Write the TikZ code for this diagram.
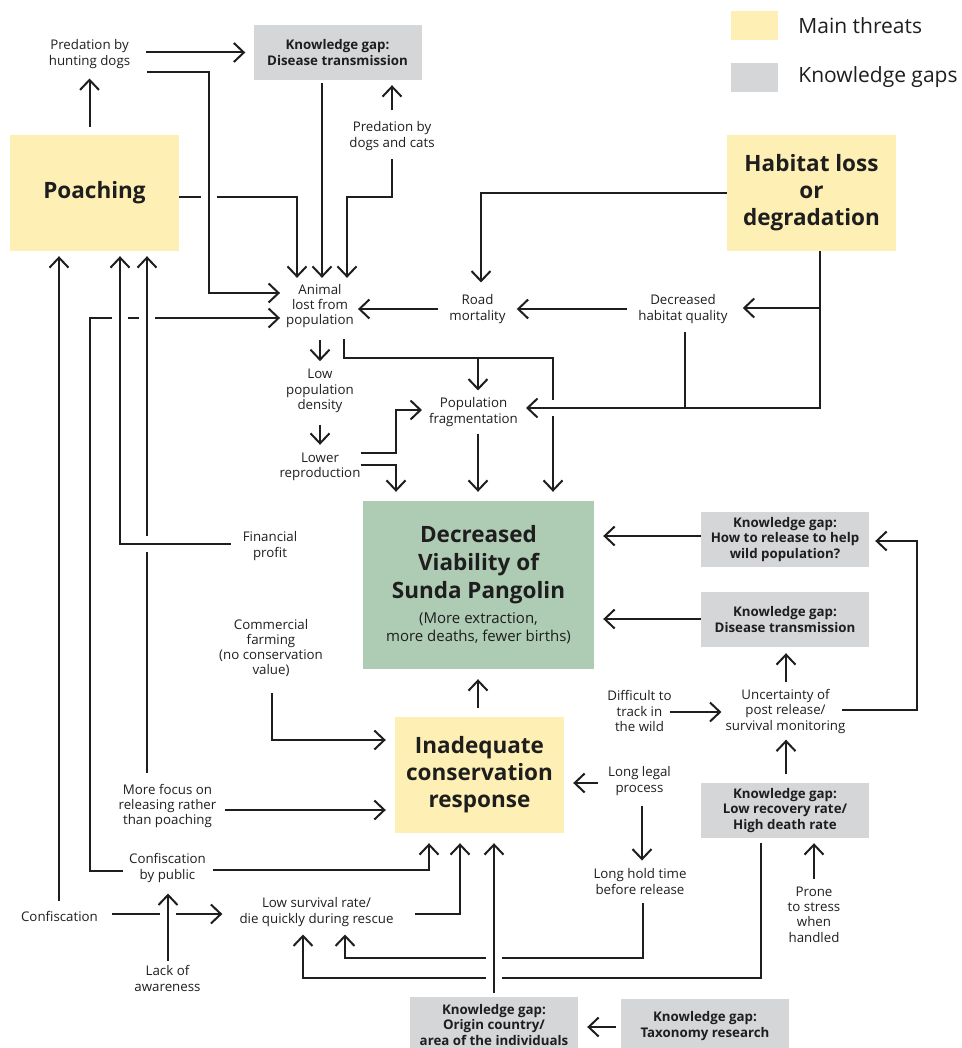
\documentclass[tikz,border=0pt]{standalone}
\usepackage{fontspec}
\setmainfont{Open Sans}
\usetikzlibrary{arrows.meta, positioning}
\definecolor{threatfill}{HTML}{FEF0B5}
\definecolor{gapfill}{HTML}{D5D6D8}
\definecolor{viabfill}{HTML}{AECBB4}
\definecolor{inkcol}{HTML}{1E1E1E}
\tikzstyle{threat} = [fill=threatfill, minimum width=169pt, minimum height=116pt, align=center, font=\bfseries\fontsize{22.5}{27}\selectfont, text=inkcol]
\tikzstyle{kgap} = [fill=gapfill, minimum width=168pt, minimum height=55pt, align=center, font=\bfseries\fontsize{13.3}{15.5}\selectfont, text=inkcol]
\tikzstyle{lbl} = [align=center, inner sep=0pt, font=\fontsize{13.3}{15.3}\selectfont, text=inkcol]
\tikzstyle{legendbox} = [minimum width=47pt, minimum height=29pt, inner sep=0pt]
\tikzstyle{legendtxt} = [inner sep=0pt, font=\fontsize{21}{25}\selectfont, text=inkcol]
\tikzstyle{conn} = [line width=2pt, draw=inkcol, -{Straight Barb[length=10pt,width=19pt]}]
\tikzstyle{over} = [preaction={draw=white, line width=16pt, arrows=-}]

\begin{document}
\begin{tikzpicture}[x=1pt, y=-1pt]
    \useasboundingbox (0,0) rectangle (961,1048);
    % legend
    \node[legendbox, fill=threatfill] (lgthreat) at (754.5,25.5) {};
    \node[legendbox, fill=gapfill] (lggap) at (754.5,77.5) {};
    \node[legendtxt, right=20pt of lgthreat] (lgthreattxt) {Main threats};
    \node[legendtxt, right=20pt of lggap] (lggaptxt) {Knowledge gaps};
    % boxes
    \node[threat] (poach) at (94.5,193) {Poaching};
    \node[threat] (habitat) at (811.5,193) {Habitat loss\\or\\degradation};
    \node[threat] (inad) at (479.5,775) {Inadequate\\conservation\\response};
    \node[fill=viabfill, minimum width=231pt, minimum height=168pt, align=center, text=inkcol,
          font=\bfseries\fontsize{22.5}{28}\selectfont] (viab) at (478.5,585)
          {Decreased\\Viability of\\Sunda Pangolin\\[-3pt]
           {\mdseries\fontsize{15}{18}\selectfont (More extraction,}\\[-10pt]
           {\mdseries\fontsize{15}{18}\selectfont more deaths, fewer births)}};
    \node[kgap] (kgdis1) at (337.5,52.5) {Knowledge gap:\\Disease transmission};
    \node[kgap] (kghow) at (785,539.5) {Knowledge gap:\\How to release to help\\wild population?};
    \node[kgap] (kgdis2) at (785,619.5) {Knowledge gap:\\Disease transmission};
    \node[kgap] (kglow) at (785,810.5) {Knowledge gap:\\Low recovery rate/\\High death rate};
    \node[kgap] (kgorigin) at (494,1024.5) {Knowledge gap:\\Origin country/\\area of the individuals};
    \node[kgap] (kgtax) at (705,1026) {Knowledge gap:\\Taxonomy research};
    % labels
    \node[lbl] (predhunt) at (89.5,54) {Predation by\\hunting dogs};
    \node[lbl] (preddog) at (392,136) {Predation by\\dogs and cats};
    \node[lbl] (animal) at (320,306) {Animal\\lost from\\population};
    \node[lbl] (road) at (477.5,309) {Road\\mortality};
    \node[lbl] (decqual) at (683,309) {Decreased\\habitat quality};
    \node[lbl] (lowdens) at (320,391) {Low\\population\\density};
    \node[lbl] (lowrep) at (320,467) {Lower\\reproduction};
    \node[lbl] (popfrag) at (473.5,412) {Population\\fragmentation};
    \node[lbl] (finprofit) at (270,546) {Financial\\profit};
    \node[lbl] (commfarm) at (271,648) {Commercial\\farming\\(no conservation\\value)};
    \node[lbl] (difficult) at (639.5,711) {Difficult to\\track in\\the wild};
    \node[lbl] (uncert) at (785.5,711.5) {Uncertainty of\\post release/\\survival monitoring};
    \node[lbl] (longlegal) at (639.5,781) {Long legal\\process};
    \node[lbl] (longhold) at (640,881.5) {Long hold time\\before release};
    \node[lbl] (prone) at (814,914.5) {Prone\\to stress\\when\\handled};
    \node[lbl] (morefocus) at (167.5,806) {More focus on\\releasing rather\\than poaching};
    \node[lbl] (confpub) at (167.5,868) {Confiscation\\by public};
    \node[lbl] (confisc) at (59.5,916.5) {Confiscation};
    \node[lbl] (lowsurv) at (316.5,912) {Low survival rate/\\die quickly during rescue};
    \node[lbl] (lack) at (167.5,978.5) {Lack of\\awareness};
    % lines that are crossed over
    \draw[conn, shorten >=6pt] (poach.east |- 0,197) -| ([xshift=-23pt]animal.north);
    \draw[conn, shorten <=11pt, shorten >=9pt] (animal.south -| 344,0) |- (478,358) coordinate (afork) -- (553,358) -- (viab.north -| 553,0);
    \draw[conn, shorten >=7pt] (afork) -- (popfrag.north -| afork);
    \draw[conn, shorten <=6pt, shorten >=6pt] (confpub.west |- 0,871) -| (90,318) -- (animal.west |- 0,318);
    \draw[conn, shorten <=14pt, shorten >=17pt] (confisc.east |- 0,914) -- (lowsurv.west |- 0,914);
    \draw[conn, shorten <=9pt, shorten >=8pt] (longhold.south -| 643,0) |- (345,958) -- (lowsurv.south -| 345,0);
    \draw[conn, shorten <=5pt, shorten >=8pt] (kglow.south -| 761,0) |- (303,978) -- (lowsurv.south -| 303,0);
    % lines that cross over
    \draw[conn, over, shorten <=11pt, shorten >=5pt] (morefocus.north -| 147,0) -- (poach.south -| 147,0);
    \draw[conn, over, shorten <=12pt, shorten >=5pt] (finprofit.west |- 0,544) -| (poach.south -| 120,0);
    \draw[conn, over, shorten >=6pt] ([shift={(17,4)}]predhunt.south east) -| (209,293) -- (animal.west |- 0,293);
    \draw[conn, over, shorten >=8pt] (habitat.south -| 820,0) -- (820,308) coordinate (hfork) -- (820,408) coordinate (hjoin) -- (popfrag.east |- hjoin);
    \draw[conn, over, shorten <=5pt, shorten >=11pt] (lack.north -| 168,0) -- (confpub.south -| 168,0);
    \draw[conn, over, shorten <=4pt, shorten >=10pt] (kgorigin.north -| 494,0) -- (inad.south -| 494,0);
    % top part
    \draw[conn, shorten <=8pt, shorten >=10pt] (predhunt |- poach.north) -- (predhunt.south);
    \draw[conn, shorten <=16pt, shorten >=8pt] (predhunt.east |- kgdis1.west) -- (kgdis1.west);
    \draw[conn, shorten <=3pt, shorten >=6pt] (kgdis1.south -| 322,0) -- (animal.north -| 322,0);
    \draw[conn, shorten <=11pt, shorten >=5pt] (preddog.north) -- (kgdis1.south -| preddog);
    \draw[conn, shorten <=9pt, shorten >=6pt] (preddog.south) |- (347,197) -- (animal.north -| 347,0);
    \draw[conn, shorten >=12pt] (habitat.west) -| (road.north -| 481,0);
    \draw[conn, shorten >=15pt] (hfork) -- (decqual.east |- hfork);
    \draw[line width=2pt, draw=inkcol, shorten <=8pt] (decqual.south -| 685,0) -- (hjoin -| 685,0);
    \draw[conn, shorten <=11pt] (decqual.west) -- ([xshift=11pt]road.east);
    \draw[conn, shorten <=11pt, shorten >=4pt] (road.west) -- (animal.east |- road.west);
    \draw[conn, shorten <=12pt, shorten >=8pt] (animal.south) -- (lowdens.north);
    \draw[conn, shorten <=12pt, shorten >=8pt] (lowdens.south) -- (lowrep.north);
    \draw[conn, shorten >=7pt] (lowrep.east |- 0,453) -| (396,410) -- (popfrag.west |- 0,410);
    \draw[conn, shorten >=9pt] (lowrep.east |- 0,465) -| (viab.north -| 396,0);
    \draw[conn, shorten <=7pt, shorten >=9pt] (popfrag.south -| 478,0) -- (viab.north -| 478,0);
    % left part
    \draw[conn, shorten <=10pt, shorten >=5pt] (confisc.north -| 59,0) -- (poach.south -| 59,0);
    \draw[conn, shorten <=16pt, shorten >=9pt] (commfarm.south -| 272,0) |- (inad.west |- 0,740);
    \draw[conn, shorten <=8pt, shorten >=9pt] (morefocus.east |- 0,810) -- (inad.west |- 0,810);
    \draw[conn, shorten <=7pt, shorten >=10pt] (confpub.east |- 0,870) -| (inad.south -| 429,0);
    \draw[conn, shorten <=21pt, shorten >=10pt] (lowsurv.east |- 0,914) -| (inad.south -| 460,0);
    \draw[conn, shorten <=9pt, shorten >=10pt] (inad.north -| 478,0) -- (viab.south -| 478,0);
    % right part
    \draw[conn, shorten <=10pt, shorten >=9pt] (longlegal.west |- 0,783) -- (inad.east |- 0,783);
    \draw[conn, shorten <=10pt, shorten >=8pt] (longlegal.south -| 642,0) -- (longhold.north -| 642,0);
    \draw[conn, shorten <=-2pt, shorten >=4pt] (difficult.east |- 0,712) -- (uncert.west |- 0,712);
    \draw[conn, shorten <=7pt, shorten >=6pt] (uncert.north -| 786,0) -- (kgdis2.south -| 786,0);
    \draw[conn, shorten <=-4pt, shorten >=6pt] (uncert.east |- 0,710) -| (917,541) -- (kghow.east |- 0,541);
    \draw[conn, shorten <=9pt, shorten >=6pt] (kglow.north -| 786,0) -- (uncert.south -| 786,0);
    \draw[conn, shorten <=8pt, shorten >=5pt] (prone.north -| 814,0) -- (kglow.south -| 814,0);
    \draw[conn, shorten <=5pt, shorten >=9pt] (kgtax.west |- 0,1027) -- (kgorigin.east |- 0,1027);
    \draw[conn, shorten >=9pt] (kghow.west |- 0,536) -- (viab.east |- 0,536);
    \draw[conn, shorten >=9pt] (kgdis2.west |- 0,619) -- (viab.east |- 0,619);
\end{tikzpicture}
\end{document}
